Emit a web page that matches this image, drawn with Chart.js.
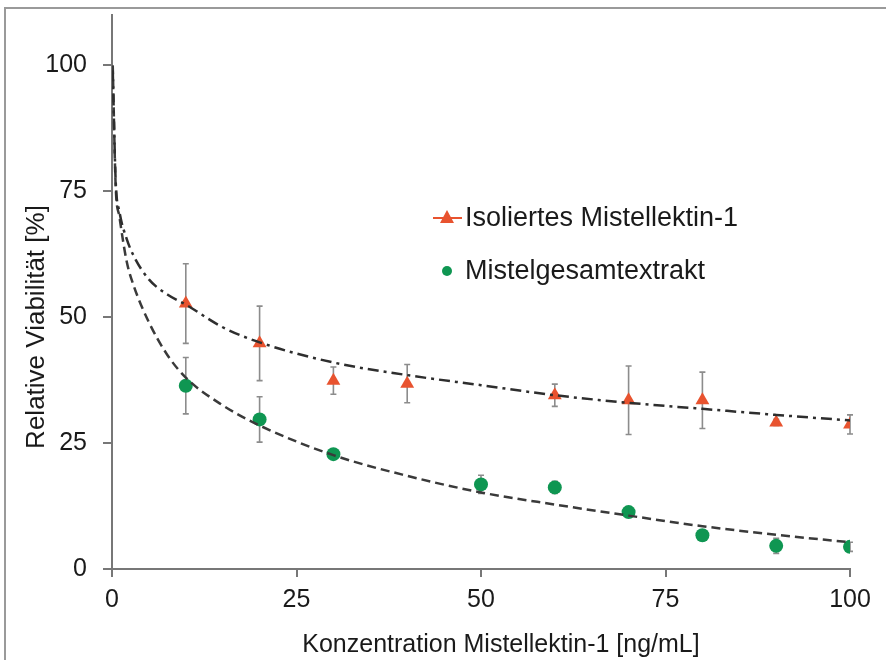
<!DOCTYPE html>
<html>
<head>
<meta charset="utf-8">
<script src="https://cdn.jsdelivr.net/npm/chart.js@4.4.1/dist/chart.umd.min.js"></script>
<style>
  html, body { margin: 0; padding: 0; background: #fff; }
  #wrap { width: 886px; height: 660px; }
</style>
</head>
<body>
<div id="wrap"><canvas id="chart" width="886" height="660"></canvas></div>
<script>
  'use strict';

  // measured points (Isoliertes Mistellektin-1)
  var isoConc = [10, 20, 30, 40, 60, 70, 80, 90, 100];
  var isoValues = [52.7, 44.8, 37.4, 36.8, 34.5, 33.5, 33.5, 29.1, 28.7];
  var isoErr = [7.9, 7.4, 2.7, 3.8, 2.2, 6.8, 5.6, 0.6, 1.9];

  // measured points (Mistelgesamtextrakt)
  var extConc = [10, 20, 30, 50, 60, 70, 80, 90, 100];
  var extValues = [36.4, 29.7, 22.8, 16.8, 16.2, 11.3, 6.7, 4.6, 4.4];
  var extErr = [5.6, 4.5, 0.6, 1.8, 1.2, 0.8, 0.8, 1.5, 0.9];

  // fitted curves
  var fitConc = [0.1, 0.5, 1, 2, 3, 5, 7.5, 10, 15, 20, 30, 40, 50, 60, 70, 80, 90, 100];
  var isoFit = [99, 77, 71, 65.5, 62, 57.5, 54.5, 52.5, 48, 45, 41, 38.5, 36.5, 34.5, 33, 31.8, 30.6, 29.5];
  var extFit = [100, 76, 70, 61, 56, 49, 42.5, 38, 32.5, 28.5, 22.6, 18.5, 15.2, 12.8, 10.6, 8.5, 6.8, 5.3];

  var xTicks = [0, 25, 50, 75, 100];
  var yTicks = [0, 25, 50, 75, 100];

  var legendLabels = ['Isoliertes Mistellektin-1', 'Mistelgesamtextrakt'];
  var xTitle = 'Konzentration Mistellektin-1 [ng/mL]';
  var yTitle = 'Relative Viabilität [%]';

  var RED = '#e8532f';
  var GREEN = '#0f9652';
  var FONT = '"Liberation Sans", Arial, sans-serif';

  function pts(xs, ys) {
    return xs.map(function (x, i) { return { x: x, y: ys[i] }; });
  }

  var errorBars = {
    id: 'errorBars',
    beforeDatasetsDraw: function (chart) {
      var ctx = chart.ctx;
      var xs = chart.scales.x, ys = chart.scales.y;
      ctx.save();
      ctx.strokeStyle = '#8c8c8c';
      ctx.lineWidth = 1.6;
      chart.data.datasets.forEach(function (ds) {
        if (!ds.errors) return;
        ds.data.forEach(function (p, i) {
          var e = ds.errors[i];
          var px = xs.getPixelForValue(p.x);
          var top = ys.getPixelForValue(p.y + e);
          var bot = ys.getPixelForValue(p.y - e);
          ctx.beginPath();
          ctx.moveTo(px, top); ctx.lineTo(px, bot);
          ctx.moveTo(px - 3, top); ctx.lineTo(px + 3, top);
          ctx.moveTo(px - 3, bot); ctx.lineTo(px + 3, bot);
          ctx.stroke();
        });
      });
      ctx.restore();
    }
  };

  var decorations = {
    id: 'decorations',
    afterDraw: function (chart) {
      var ctx = chart.ctx;
      ctx.save();
      // frame
      ctx.strokeStyle = '#9a9a9a';
      ctx.lineWidth = 2;
      ctx.beginPath();
      ctx.moveTo(5, 660); ctx.lineTo(5, 8); ctx.lineTo(886, 8);
      ctx.stroke();

      // legend
      ctx.font = '27px ' + FONT;
      ctx.textBaseline = 'middle';
      ctx.textAlign = 'left';
      ctx.strokeStyle = RED;
      ctx.lineWidth = 2;
      ctx.beginPath(); ctx.moveTo(433, 218); ctx.lineTo(462, 218); ctx.stroke();
      ctx.fillStyle = RED;
      ctx.beginPath();
      ctx.moveTo(447, 210); ctx.lineTo(454, 223); ctx.lineTo(440, 223); ctx.closePath();
      ctx.fill();
      ctx.fillStyle = GREEN;
      ctx.beginPath(); ctx.arc(447, 271, 5, 0, Math.PI * 2); ctx.fill();
      ctx.fillStyle = '#1a1a1a';
      ctx.fillText(legendLabels[0], 465, 219);
      ctx.fillText(legendLabels[1], 465, 272);

      // axis titles
      ctx.font = '25px ' + FONT;
      ctx.textAlign = 'center';
      ctx.fillText(xTitle, 501, 645);
      ctx.translate(37, 327);
      ctx.rotate(-Math.PI / 2);
      ctx.font = '26px ' + FONT;
      ctx.fillText(yTitle, 0, 0);
      ctx.restore();
    }
  };

  var tickFont = { family: FONT, size: 25 };

  new Chart(document.getElementById('chart').getContext('2d'), {
    data: {
      datasets: [
        {
          type: 'line',
          data: pts(fitConc, isoFit),
          borderColor: '#2e2e2e',
          borderWidth: 2.5,
          borderDash: [11, 5, 3, 5],
          pointRadius: 0,
          cubicInterpolationMode: 'monotone',
          fill: false
        },
        {
          type: 'line',
          data: pts(fitConc, extFit),
          borderColor: '#3a3a3a',
          borderWidth: 2.5,
          borderDash: [9, 5],
          pointRadius: 0,
          cubicInterpolationMode: 'monotone',
          fill: false
        },
        {
          type: 'scatter',
          label: legendLabels[0],
          data: pts(isoConc, isoValues),
          errors: isoErr,
          pointStyle: 'triangle',
          pointRadius: 8,
          backgroundColor: RED,
          borderWidth: 0
        },
        {
          type: 'scatter',
          label: legendLabels[1],
          data: pts(extConc, extValues),
          errors: extErr,
          pointStyle: 'circle',
          pointRadius: 7,
          backgroundColor: GREEN,
          borderWidth: 0
        }
      ]
    },
    options: {
      responsive: false,
      animation: false,
      layout: { padding: { left: 0, top: 15, right: 36, bottom: 0 } },
      plugins: {
        legend: { display: false },
        tooltip: { enabled: false }
      },
      scales: {
        x: {
          type: 'linear',
          min: 0,
          max: 100,
          afterFit: function (s) { s.height = 91; s.paddingLeft = 0; s.paddingRight = 0; },
          afterBuildTicks: function (s) {
            s.ticks = xTicks.map(function (v) { return { value: v }; });
          },
          border: { color: '#777', width: 2 },
          grid: { drawOnChartArea: false, drawTicks: true, tickLength: 8, color: '#777', lineWidth: 2 },
          ticks: { font: tickFont, color: '#1a1a1a', padding: 8, maxRotation: 0 }
        },
        y: {
          type: 'linear',
          min: 0,
          max: 110,
          afterFit: function (s) { s.width = 112; s.paddingTop = 0; s.paddingBottom = 0; },
          afterBuildTicks: function (s) {
            s.ticks = yTicks.map(function (v) { return { value: v }; });
          },
          border: { color: '#777', width: 2 },
          grid: { drawOnChartArea: false, drawTicks: true, tickLength: 9, color: '#777', lineWidth: 2 },
          ticks: { font: tickFont, color: '#1a1a1a', padding: 16 }
        }
      }
    },
    plugins: [errorBars, decorations]
  });
</script>
</body>
</html>
